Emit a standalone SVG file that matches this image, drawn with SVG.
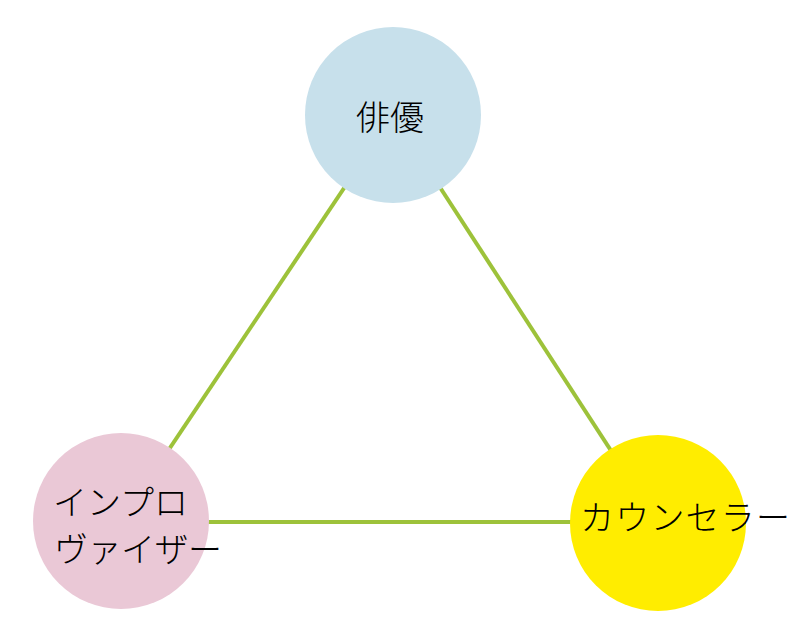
<svg xmlns="http://www.w3.org/2000/svg" width="798" height="639" viewBox="0 0 798 639">
<style>
.edge{stroke:#9dc23a;stroke-width:4;fill:none}
.lbl{font-family:"Noto Sans CJK JP","Noto Sans",sans-serif;font-size:34px;font-weight:300;fill:#000}
</style>
<rect width="798" height="639" fill="#fff"/>
<g id="connectors">
<line class="edge" x1="393" y1="115" x2="121" y2="521"/>
<line class="edge" x1="393" y1="115" x2="658" y2="523"/>
<line class="edge" x1="121" y1="522" x2="658" y2="522"/>
</g>
<g id="actor">
<circle cx="393" cy="115" r="88" fill="#c7e0eb"/>
<text class="lbl" x="390" y="130" text-anchor="middle">俳優</text>
</g>
<g id="improviser">
<circle cx="121" cy="521" r="88" fill="#eac8d6"/>
<text class="lbl" x="53" y="515">インプロ</text>
<text class="lbl" x="54" y="562" letter-spacing="-0.5">ヴァイザー</text>
</g>
<g id="counselor">
<circle cx="658" cy="523" r="88" fill="#ffed00"/>
<text class="lbl" x="580" y="530" letter-spacing="1.2">カウンセラー</text>
</g>
</svg>
